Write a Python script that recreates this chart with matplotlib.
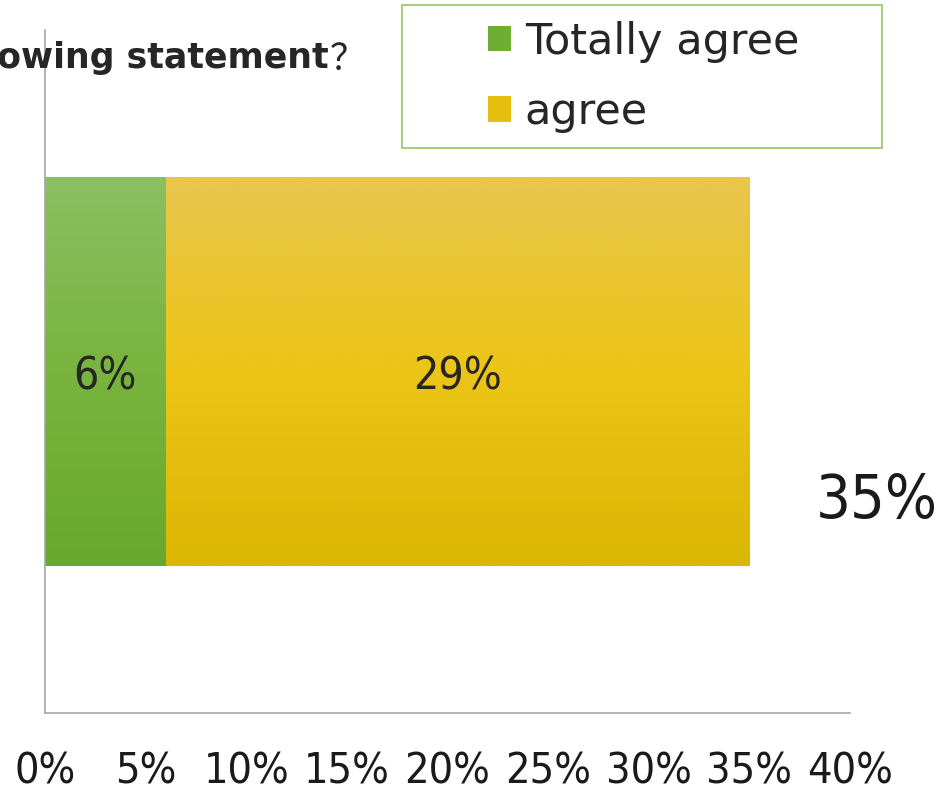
import numpy as np
import matplotlib
matplotlib.use('Agg')
import matplotlib.pyplot as plt
from matplotlib.patches import Patch, Rectangle
from matplotlib.colors import LinearSegmentedColormap

# 数据
series_names = ['Totally agree', 'agree']
series_values = [6, 29]
total_label = '35%'
xticks = [0, 5, 10, 15, 20, 25, 30, 35, 40]
xtick_labels = ['0%', '5%', '10%', '15%', '20%', '25%', '30%', '35%', '40%']
title_text = 'Do you agree with the following statement'

# 渐变色（上 -> 下）
grad_colors = [['#8cbf62', '#78b43e', '#68a82e'],
               ['#e8c54e', '#ecc516', '#dab605']]
legend_colors = ['#6fae35', '#e6c010']

plt.rcParams['font.family'] = ['DejaVu Sans']
plt.rcParams['font.stretch'] = 'condensed'
W, H = 947, 792
fig = plt.figure(figsize=(W / 100, H / 100), dpi=100)
ax = fig.add_axes([45 / W, 79 / H, 805 / W, 683 / H])

bar_h = 0.57
left = 0
for name, val, cols in zip(series_names, series_values, grad_colors):
    bars = ax.barh(0, val, left=left, height=bar_h, color=cols[1], edgecolor='none', label=name)
    cmap = LinearSegmentedColormap.from_list(name, cols[::-1])
    grad = np.linspace(0, 1, 256).reshape(-1, 1)
    im = ax.imshow(grad, cmap=cmap, aspect='auto', origin='lower',
                   extent=[left, left + val, -bar_h / 2, bar_h / 2], zorder=2)
    im.set_clip_path(bars[0])
    ax.text(left + val / 2, -0.008, f'{val}%', ha='center', va='center',
            fontsize=32, color='#262626', zorder=3)
    left += val

ax.text(left + 3.3, -0.191, total_label, ha='left', va='center', fontsize=44,
        color='#1a1a1a', clip_on=False)

ax.set_xlim(0, 40)
ax.set_ylim(-0.5, 0.5)
ax.set_xticks(xticks)
ax.set_xticklabels(xtick_labels, fontsize=31, color='#1a1a1a')
ax.set_yticks([])
ax.tick_params(axis='x', length=0, pad=27)
for s in ['top', 'right']:
    ax.spines[s].set_visible(False)
for s in ['left', 'bottom']:
    ax.spines[s].set_color('#a6a6a6')
    ax.spines[s].set_linewidth(1.2)

# 标题（左侧被裁切）
fig.text(329 / W, 1 - 58 / H, title_text, ha='right', va='center', fontsize=25,
         fontweight='bold', fontstretch='normal', color='#262626')
fig.text(348 / W, 1 - 60 / H, '？', ha='center', va='center', fontsize=26,
         color='#262626', family=['Noto Sans CJK SC'])

# 图例
fig.patches.append(Rectangle((402 / W, 1 - 148 / H), 480 / W, 143 / H,
                             transform=fig.transFigure, fill=False,
                             edgecolor='#9ccc6c', linewidth=1.3))
handles = [Patch(facecolor=c, edgecolor='none') for c in legend_colors]
fig.legend(handles, series_names, loc='upper left',
           bbox_to_anchor=(449 / W, 1 + 18 / H), frameon=False,
           handlelength=0.53, handleheight=0.53, handletextpad=0.33,
           labelspacing=0.66, labelcolor='#262626',
           prop={'family': ['DejaVu Sans'], 'stretch': 'normal', 'size': 31})

fig.savefig('out.png', dpi=100)
